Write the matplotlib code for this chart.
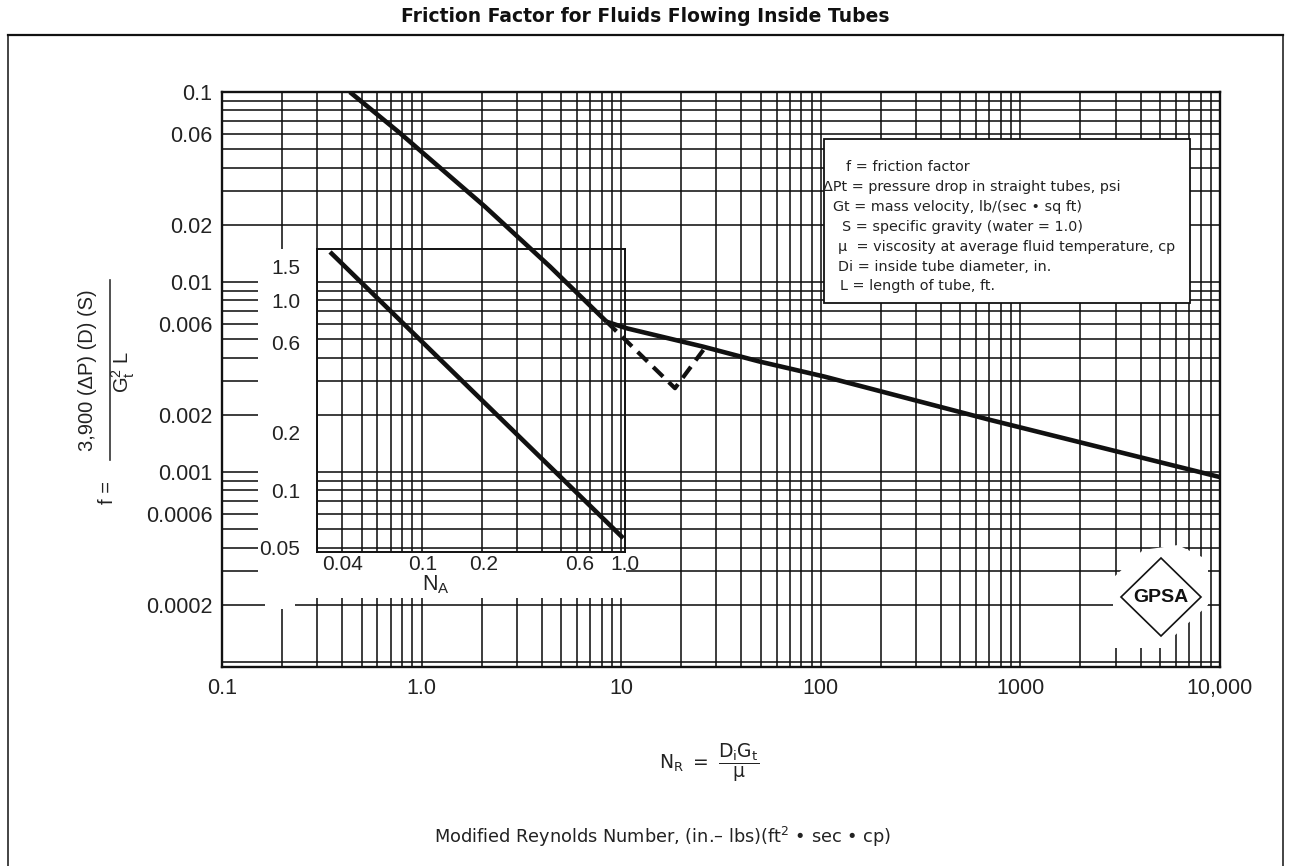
import numpy as np
import matplotlib
matplotlib.use("Agg")
import matplotlib.pyplot as plt
from matplotlib.ticker import (FixedLocator, FixedFormatter, LogLocator,
                               NullLocator, NullFormatter)
from matplotlib.patches import Rectangle, Polygon
from matplotlib.lines import Line2D

plt.rcParams['font.family'] = ['Liberation Sans', 'DejaVu Sans']
plt.rcParams['mathtext.fontset'] = 'custom'
plt.rcParams['mathtext.rm'] = 'Liberation Sans'
plt.rcParams['mathtext.it'] = 'Liberation Sans:italic'
plt.rcParams['mathtext.bf'] = 'Liberation Sans:bold'

# ---------------- data ----------------
laminar_NR = [0.437, 0.78, 2.08, 4.4, 8.45]
laminar_f = [0.1, 0.0607, 0.0249, 0.01205, 0.00618]

turbulent_NR = [8.45, 10.7, 25.7, 49.5, 104, 705, 10000]
turbulent_f = [0.00618, 0.0057, 0.00457, 0.00381, 0.00318, 0.00188, 0.00094]

transition_NR = [8.45, 18.6, 25.8]
transition_f = [0.00618, 0.00276, 0.00439]

inset_NA = [0.0348, 0.98]
inset_val = [1.79, 0.0558]

x_ticks = [0.1, 1, 10, 100, 1000, 10000]
x_labels = ['0.1', '1.0', '10', '100', '1000', '10,000']
y_ticks = [0.1, 0.06, 0.02, 0.01, 0.006, 0.002, 0.001, 0.0006, 0.0002]
y_labels = ['0.1', '0.06', '0.02', '0.01', '0.006', '0.002', '0.001', '0.0006', '0.0002']

inset_x_ticks = [0.04, 0.1, 0.2, 0.6, 1.0]
inset_x_labels = ['0.04', '0.1', '0.2', '0.6', '1.0']
inset_y_ticks = [0.05, 0.1, 0.2, 0.6, 1.0, 1.5]
inset_y_labels = ['0.05', '0.1', '0.2', '0.6', '1.0', '1.5']

legend_lines = [
    'f = friction factor',
    'ΔPt = pressure drop in straight tubes, psi',
    'Gt = mass velocity, lb/(sec • sq ft)',
    'S = specific gravity (water = 1.0)',
    'μ  = viscosity at average fluid temperature, cp',
    'Di = inside tube diameter, in.',
    'L = length of tube, ft.',
]

title = 'Friction Factor for Fluids Flowing Inside Tubes'
xlabel_formula = r'$\mathregular{N_R\ =\ \dfrac{D_iG_t}{μ}}$'
xlabel_units = r'Modified Reynolds Number, (in.– lbs)(ft$^{2}$ • sec • cp)'
ylabel_lhs = 'f ='
ylabel_num = '3,900 (ΔP) (D) (S)'
ylabel_den = r'$\mathregular{G_t^{2}\ L}$'

# ---------------- layout helpers ----------------
W, H = 1290, 866
fig = plt.figure(figsize=(W / 100, H / 100), dpi=100)
fig.patch.set_facecolor('white')


def fx(px):
    return px / W


def fy(py):
    return 1 - py / H


K = '#111111'
TXT = '#222222'

# main axes
L_, R_, T_, B_ = 222, 1220, 92, 667
ax = fig.add_axes([fx(L_), fy(B_), (R_ - L_) / W, (B_ - T_) / H])
ax.set_xscale('log')
ax.set_yscale('log')
ax.set_xlim(0.1, 10000)
ax.set_ylim(10 ** (-1 - (B_ - T_) / 190.0), 0.1)

ax.xaxis.set_major_locator(FixedLocator(x_ticks))
ax.xaxis.set_major_formatter(FixedFormatter(x_labels))
ax.yaxis.set_major_locator(FixedLocator(y_ticks))
ax.yaxis.set_major_formatter(FixedFormatter(y_labels))
ax.xaxis.set_minor_locator(LogLocator(base=10, subs=np.arange(1, 10), numticks=100))
ax.yaxis.set_minor_locator(LogLocator(base=10, subs=np.arange(1, 10), numticks=100))
ax.xaxis.set_minor_formatter(NullFormatter())
ax.yaxis.set_minor_formatter(NullFormatter())
ax.tick_params(which='both', length=0, labelsize=15.5, colors=TXT)
ax.tick_params(axis='x', pad=8)
ax.tick_params(axis='y', pad=7)
ax.grid(which='both', color=K, lw=1.15)
for s in ax.spines.values():
    s.set_linewidth(1.7)
    s.set_color(K)

# curves
ax.plot(laminar_NR, laminar_f, color=K, lw=3.3, solid_capstyle='butt', zorder=3)
ax.plot(turbulent_NR, turbulent_f, color=K, lw=3.3, solid_capstyle='butt', zorder=3)
ax.plot(transition_NR, transition_f, color=K, lw=3.0, ls=(0, (3.3, 1.9)), zorder=3)

# white masks (areas where the printed grid is interrupted)
masks = [
    (258, 249, 317, 598),
    (258, 552, 626, 576),
    (258, 576, 623, 598),
    (265, 598, 295, 609),
]
for x0, y0, x1, y1 in masks:
    ax.add_patch(Rectangle((fx(x0), fy(y1)), fx(x1) - fx(x0), fy(y0) - fy(y1),
                           transform=fig.transFigure, facecolor='white',
                           edgecolor='none', zorder=1.8))

# legend box
lx0, ly0, lx1, ly1 = 824, 139, 1189.5, 302.7
ax.add_patch(Rectangle((fx(lx0), fy(ly1)), fx(lx1) - fx(lx0), fy(ly0) - fy(ly1),
                       transform=fig.transFigure, facecolor='white',
                       edgecolor=K, lw=1.3, zorder=4))
legend_x = [846, 823, 833, 842, 838, 838, 840]
legend_y = [166.7, 186.7, 206.7, 226.7, 246.7, 267, 286]
for txt, x, y in zip(legend_lines, legend_x, legend_y):
    fig.text(fx(x), fy(y), txt, ha='left', va='center', fontsize=10.4,
             family='DejaVu Sans', color=TXT, zorder=5)

# GPSA logo
cx, cy = 1161, 597
halo = [(1113, 578), (1143, 550), (1178, 545), (1208, 560), (1208, 605),
        (1161, 648), (1113, 648)]
ax.add_patch(Polygon([(fx(a), fy(b)) for a, b in halo], closed=True,
                     transform=fig.transFigure, facecolor='white',
                     edgecolor='none', zorder=1.8))
dia = [(cx - 40, cy), (cx, cy - 39), (cx + 40, cy), (cx, cy + 39)]
ax.add_patch(Polygon([(fx(a), fy(b)) for a, b in dia], closed=True,
                     transform=fig.transFigure, facecolor='white',
                     edgecolor=K, lw=1.2, zorder=4))
fig.text(fx(cx), fy(cy + 1), 'GPSA', ha='center', va='center', fontsize=14,
         fontweight='bold', family=['Liberation Sans Narrow', 'Liberation Sans'],
         color=K, zorder=5)

# inset axes
iL, iR, iT, iB = 317, 625, 249, 552
axi = fig.add_axes([fx(iL), fy(iB), (iR - iL) / W, (iB - iT) / H])
axi.set_facecolor('none')
axi.set_xscale('log')
axi.set_yscale('log')
axi.set_xlim(0.03, 1.0)
axi.set_ylim(10 ** ((300 - iB) / 190.0), 10 ** ((300 - iT) / 190.0))
axi.xaxis.set_major_locator(FixedLocator(inset_x_ticks))
axi.xaxis.set_major_formatter(FixedFormatter(inset_x_labels))
axi.yaxis.set_major_locator(FixedLocator(inset_y_ticks))
axi.yaxis.set_major_formatter(FixedFormatter(inset_y_labels))
axi.xaxis.set_minor_locator(NullLocator())
axi.yaxis.set_minor_locator(NullLocator())
axi.tick_params(which='both', length=0, labelsize=15, colors=TXT)
axi.tick_params(axis='x', pad=2)
axi.tick_params(axis='y', pad=12)
for s in axi.spines.values():
    s.set_linewidth(1.4)
    s.set_color(K)
axi.plot(inset_NA, inset_val, color=K, lw=3.3, solid_capstyle='butt')
fig.text(fx(436), fy(585), r'$\mathregular{N_A}$', ha='center', va='center',
         fontsize=15.5, color=TXT)

# titles / labels
fig.text(fx(645), fy(17), title, ha='center', va='center', fontsize=13.5,
         fontweight='bold', family='DejaVu Sans', color=K)
fig.text(fx(709), fy(763), xlabel_formula, ha='center', va='center',
         fontsize=13.5, family='DejaVu Sans', math_fontfamily='dejavusans',
         color=TXT)
fig.text(fx(663), fy(837), xlabel_units, ha='center', va='center',
         fontsize=12.8, family='DejaVu Sans', math_fontfamily='dejavusans',
         color=TXT)

# y label composed as a fraction
fig.text(fx(87), fy(370), ylabel_num, ha='center', va='center', rotation=90,
         fontsize=14.5, color=TXT)
fig.text(fx(123), fy(372), ylabel_den, ha='center', va='center', rotation=90,
         fontsize=14.5, color=TXT)
fig.add_artist(Line2D([fx(110), fx(110)], [fy(280), fy(460)], color='#333333', lw=1.2))
fig.text(fx(107), fy(493), ylabel_lhs, ha='center', va='center', rotation=90,
         fontsize=14.5, color=TXT)

# outer frame
fig.add_artist(Line2D([fx(8), fx(1283)], [fy(35), fy(35)], color=K, lw=1.6))
fig.add_artist(Line2D([fx(8), fx(8)], [fy(35), fy(866)], color=K, lw=1.1))
fig.add_artist(Line2D([fx(1283), fx(1283)], [fy(35), fy(866)], color=K, lw=1.1))

fig.savefig('out.png', dpi=100, facecolor='white')
